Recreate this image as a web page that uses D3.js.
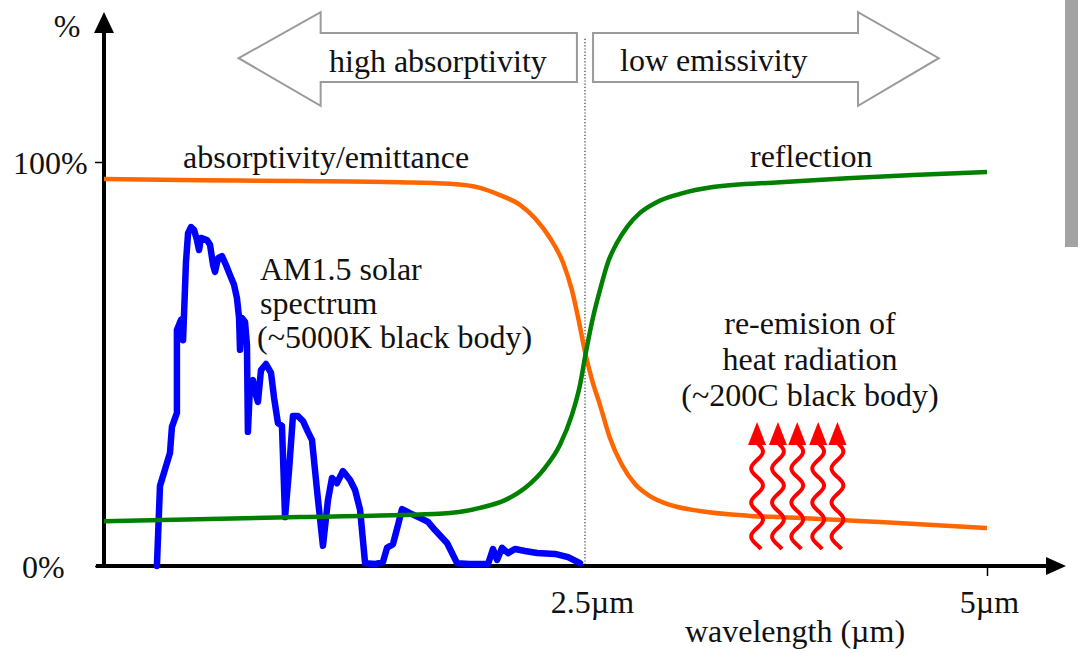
<!DOCTYPE html>
<html>
<head>
<meta charset="utf-8">
<script src="https://cdn.jsdelivr.net/npm/d3@7"></script>
<style>
  body { margin: 0; background: #fff; }
  svg text { font-family: "Liberation Serif", "Tinos", "Times New Roman", "DejaVu Serif", serif !important; fill: #111; }
</style>
</head>
<body>
<div class="container"></div>
<script>
// schematic solar selective absorber chart

var width = 1078;
var height = 653;
var serif = "'Liberation Serif', Tinos, 'Times New Roman', 'DejaVu Serif', serif";
var fontSize = "32px";

// AM1.5 solar spectrum (wavelength in um, relative %)
var solarWl = [0.275, 0.291, 0.343, 0.353, 0.379, 0.379, 0.400, 0.411, 0.426, 0.437, 0.452, 0.468, 0.483, 0.494, 0.504,
    0.535, 0.551, 0.567, 0.577, 0.593, 0.613, 0.634, 0.655, 0.676, 0.691, 0.702, 0.707, 0.717, 0.733, 0.743, 0.748,
    0.759, 0.774, 0.790, 0.800, 0.816, 0.842, 0.868, 0.884, 0.904, 0.925, 0.941, 0.962, 0.982, 1.008, 1.034, 1.060,
    1.081, 1.107, 1.138, 1.164, 1.185, 1.211, 1.242, 1.279, 1.305, 1.331, 1.357, 1.414, 1.450, 1.471, 1.502, 1.528,
    1.549, 1.590, 1.642, 1.684, 1.720, 1.783, 1.835, 1.902, 1.996, 2.022, 2.043, 2.069, 2.100, 2.136, 2.188, 2.251,
    2.344, 2.412, 2.474];
var solarPct = [0, 19.8, 28.0, 34.4, 37.9, 58.4, 60.9, 55.9, 75.2, 82.4, 83.9, 83.2, 80.7, 78.2, 81.2,
    80.7, 79.5, 74.5, 72.8, 76.2, 76.7, 74.5, 72.0, 69.6, 66.3, 61.4, 53.5, 61.4, 60.4, 54.7, 33.2,
    44.8, 46.0, 42.3, 40.6, 48.5, 50.0, 47.8, 41.6, 35.4, 34.7, 12.1, 23.8, 37.1, 37.1, 35.9, 33.2,
    31.2, 18.8, 5.0, 16.3, 21.8, 20.5, 23.5, 21.3, 18.8, 13.9, 0.7, 0.5, 1.0, 4.5, 5.4, 10.1,
    14.1, 13.1, 11.9, 10.9, 8.9, 5.7, 0.7, 0.5, 0.5, 4.2, 1.5, 4.5, 3.2, 4.2, 3.7, 3.2,
    3.0, 2.2, 0.7];

// absorptivity / emittance curve
var absorbWl = [0, 0.499, 1.019, 1.538, 1.798, 1.954, 2.058, 2.162, 2.240, 2.318, 2.385, 2.432, 2.469, 2.5,
    2.544, 2.593, 2.655, 2.730, 2.811, 2.904, 3.029, 3.215, 3.526, 3.837, 4.335, 5.0];
var absorbPct = [95.8, 95.5, 95.3, 95.0, 94.6, 93.6, 91.8, 89.4, 86.1, 81.2, 75.2, 68.3, 60.4, 53.0,
    46.0, 39.9, 31.7, 25.0, 20.3, 17.3, 15.1, 13.6, 12.4, 11.9, 10.9, 9.4];

// reflection curve
var reflectWl = [0, 1.019, 1.538, 1.798, 1.954, 2.084, 2.188, 2.292, 2.370, 2.432, 2.474, 2.506, 2.549, 2.593,
    2.643, 2.699, 2.767, 2.842, 2.948, 3.091, 3.296, 3.713, 4.130, 4.540, 5.0];
var reflectPct = [11.1, 12.1, 12.6, 13.1, 14.4, 16.3, 19.3, 24.3, 30.0, 37.4, 44.8, 53.0, 61.4, 68.3,
    75.2, 80.0, 84.2, 87.4, 90.1, 92.1, 93.8, 95.0, 96.0, 96.8, 97.5];

var xTicks = [2.5, 5];
var xTickLabels = ["2.5\u00b5m", "5\u00b5m"];
var yTicks = [0, 100];
var yTickLabels = ["0%", "100%"];
var heatArrowWl = [3.57, 3.70, 3.82, 3.95, 4.07];

var x = d3.scaleLinear().domain([0, 2.5, 5]).range([104, 585, 987]);
var y = d3.scaleLinear().domain([0, 100]).range([566, 162]);

const svg = d3.select(".container")
    .append("svg")
    .attr("width", width)
    .attr("height", height);

function label(tx, ty, t, anchor)
{
    return svg.append("text")
        .attr("x", tx).attr("y", ty)
        .attr("text-anchor", anchor || "start")
        .attr("font-family", serif)
        .style("font-size", fontSize)
        .text(t);
}

// screenshot edge strip on the right
svg.append("rect")
    .attr("x", 1065).attr("y", 0).attr("width", 13).attr("height", 247)
    .style("fill", "#a3a3a3");

// divider at 2.5um
svg.append("line")
    .attr("x1", x(2.5)).attr("x2", x(2.5))
    .attr("y1", y(130.5)).attr("y2", y(0))
    .style("stroke", "#333").style("stroke-width", 1.2)
    .style("stroke-dasharray", "1.2,2");

// big outlined arrows
var leftArrow = [[0.70, 125.7], [1.126, 137.1], [1.126, 131.9], [2.458, 131.9], [2.458, 119.8],
    [1.126, 119.8], [1.126, 113.9]];
var rightArrow = [[2.55, 131.9], [4.198, 131.9], [4.198, 137.1], [4.70, 125.7], [4.198, 113.9],
    [4.198, 119.8], [2.55, 119.8]];
[leftArrow, rightArrow].forEach(function(pts)
{
    svg.append("polygon")
        .attr("points", pts.map(function(p) { return x(p[0]) + "," + y(p[1]); }).join(" "))
        .style("fill", "#fff")
        .style("stroke", "#9a9a9a")
        .style("stroke-width", 2);
});

label(329, 72, "high absorptivity");
label(620, 71, "low emissivity");

// axes
var xAxis = d3.axisBottom(x).tickValues(xTicks).tickSize(10)
    .tickFormat(function(d, i) { return xTickLabels[i]; });
var gx = svg.append("g").attr("transform", "translate(0," + y(0) + ")").call(xAxis)
    .attr("font-family", serif);
gx.select(".domain").remove();
gx.selectAll(".tick line").style("stroke", "#000").style("stroke-width", 1.5)
    .style("opacity", function(d) { return d == 5 ? 1 : 0; });
gx.selectAll(".tick text").attr("y", 47).attr("dy", 0)
    .attr("dx", function(d) { return d == 5 ? 2 : 7; })
    .style("font-size", fontSize).style("fill", "#111");

var yAxis = d3.axisLeft(y).tickValues(yTicks).tickSize(9)
    .tickFormat(function(d, i) { return yTickLabels[i]; });
var gy = svg.append("g").attr("transform", "translate(" + x(0) + ",0)").call(yAxis)
    .attr("font-family", serif);
gy.select(".domain").remove();
gy.selectAll(".tick line").style("stroke", "#000").style("stroke-width", 1.5);
gy.selectAll(".tick text").attr("text-anchor", "start")
    .attr("x", function(d) { return d == 0 ? -82 : -91; }).attr("dy", "0.36em")
    .style("font-size", fontSize).style("fill", "#111");

svg.append("line")
    .attr("x1", 96).attr("x2", 1048).attr("y1", y(0)).attr("y2", y(0))
    .style("stroke", "#000").style("stroke-width", 4);
svg.append("path")
    .attr("d", "M1046," + (y(0) - 9) + "L1066," + y(0) + "L1046," + (y(0) + 9) + "Z")
    .style("fill", "#000");
svg.append("line")
    .attr("x1", x(0)).attr("x2", x(0)).attr("y1", y(0) + 2).attr("y2", 30)
    .style("stroke", "#000").style("stroke-width", 4);
svg.append("path")
    .attr("d", "M" + (x(0) - 10) + ",33L" + x(0) + ",12L" + (x(0) + 10) + ",33Z")
    .style("fill", "#000");
label(67, 37, "%", "middle");
label(795, 642, "wavelength (\u00b5m)", "middle");

// curves
var smooth = d3.line()
    .x(function(d) { return x(d[0]); })
    .y(function(d) { return y(d[1]); })
    .curve(d3.curveMonotoneX);
var jagged = d3.line()
    .x(function(d) { return x(d[0]); })
    .y(function(d) { return y(d[1]); });

svg.append("path")
    .datum(solarWl.map(function(w, i) { return [w, solarPct[i]]; }))
    .attr("d", jagged)
    .style("fill", "none").style("stroke", "#0000ff").style("stroke-width", 6.5)
    .style("stroke-linejoin", "round").style("stroke-linecap", "round");

svg.append("path")
    .datum(absorbWl.map(function(w, i) { return [w, absorbPct[i]]; }))
    .attr("d", smooth)
    .style("fill", "none").style("stroke", "#ff6600").style("stroke-width", 4.5);

svg.append("path")
    .datum(reflectWl.map(function(w, i) { return [w, reflectPct[i]]; }))
    .attr("d", smooth)
    .style("fill", "none").style("stroke", "#008000").style("stroke-width", 4.5);

// heat radiation wavy arrows
heatArrowWl.forEach(function(w)
{
    var cx = x(w);
    var top = 443, bottom = 549;
    var pts = [];
    for (var yy = top; yy <= bottom; yy += 2)
    {
        pts.push([cx + 6 * Math.sin((yy - top) / 34 * 2 * Math.PI), yy]);
    }
    svg.append("path")
        .attr("d", d3.line().curve(d3.curveBasis)(pts))
        .style("fill", "none").style("stroke", "#ff0000").style("stroke-width", 4);
    svg.append("path")
        .attr("d", "M" + (cx - 9) + ",445L" + cx + ",422L" + (cx + 9) + ",445Z")
        .style("fill", "#ff0000");
});

// labels
label(183, 168, "absorptivity/emittance");
label(750, 167, "reflection");

var solarLines = ["AM1.5 solar", "spectrum", "(~5000K black body)"];
solarLines.forEach(function(t, i)
{
    label(i == 2 ? 257 : 260, 280 + i * 34, t);
});
var heatLines = ["re-emision of", "heat radiation", "(~200C black body)"];
heatLines.forEach(function(t, i)
{
    label(810, 334 + i * 36, t, "middle");
});
</script>
</body>
</html>
